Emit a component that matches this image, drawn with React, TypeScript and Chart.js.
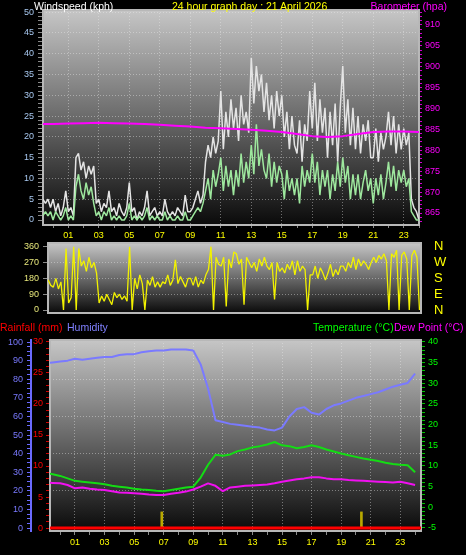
import React, { useEffect, useRef } from "react";
import { Chart, registerables } from "chart.js";

Chart.register(...registerables);

const FONT = "'Liberation Sans', Arial, sans-serif";

// ---------------- data ----------------
// Wind speed (kph), one value every 10 minutes (first row: before 00:00, then one row per hour)
const windStartHour = -4 / 6;
const windStepHours = 1 / 6;
const windGust = [
  5, 4, 5, 3,
  5, 2, 4, 1, 3, 7,
  2, 3, 1, 15, 16, 12,
  14, 10, 13, 11, 13, 4,
  5, 2, 4, 3, 7, 2,
  3, 1, 4, 2, 1, 3,
  9, 2, 3, 0, 2, 1,
  3, 7, 1, 2, 3, 1,
  2, 1, 5, 2, 1, 2,
  1, 3, 2, 1, 6, 2,
  2, 3, 5, 7, 4, 6,
  14, 18, 15, 20, 16, 19,
  31, 17, 26, 20, 29, 22,
  27, 19, 30, 23, 26, 21,
  39, 28, 37, 31, 35, 26,
  33, 24, 30, 22, 31, 25,
  30, 20, 26, 17, 25, 18,
  16, 24, 14, 23, 19, 31,
  22, 33, 19, 29, 21, 27,
  15, 26, 18, 28, 14, 27,
  37, 21, 29, 18, 27, 17,
  25, 16, 23, 19, 24, 15,
  15, 22, 14, 21, 17, 20,
  26, 18, 25, 16, 23, 17,
  22, 18, 21, 5, 3, 2,
  0,
];
const windAverage = [
  1, 2, 1, 2,
  0, 2, 1, 0, 1, 3,
  0, 1, 0, 8, 11, 7,
  5, 9, 6, 8, 4, 1,
  2, 0, 2, 1, 3, 0,
  1, 0, 1, 0, 0, 1,
  4, 0, 1, 0, 1, 0,
  1, 3, 0, 1, 0, 1,
  0, 0, 2, 0, 1, 0,
  0, 1, 0, 0, 2, 0,
  0, 1, 2, 3, 2, 4,
  7, 10, 5, 12, 8, 11,
  15, 7, 13, 8, 12, 6,
  12, 8, 16, 9, 14, 10,
  18, 11, 23, 13, 17, 12,
  10, 16, 8, 14, 9, 13,
  11, 5, 12, 7, 10, 6,
  10, 4, 13, 8, 12, 9,
  16, 9, 14, 6, 12, 8,
  12, 5, 11, 7, 14, 8,
  15, 9, 13, 5, 11, 6,
  11, 5, 9, 12, 7, 10,
  4, 10, 6, 11, 5, 9,
  14, 8, 13, 7, 12, 9,
  12, 8, 10, 2, 1, 0,
  0,
];

// Barometer (hPa), hourly
const baroStartHour = -1;
const baroStepHours = 1;
const barometer = [
  886.3, 886.3, 886.4, 886.5, 886.6, 886.5, 886.4, 886.3, 886.1, 885.9,
  885.7, 885.4, 885.3, 885.1, 884.9, 884.7, 884.4, 883.9, 883.4, 883.2,
  883.4, 883.9, 884.4, 884.5, 884.5, 884.4,
];

// Wind direction (degrees), every 10 minutes
const dirStartHour = -0.5;
const dirStepHours = 1 / 6;
const windDirection = [
  150, 170, 140,
  130, 180, 120, 160, 0, 350,
  40, 70, 360, 0, 350, 250,
  280, 220, 300, 240, 270, 210,
  40, 80, 50, 90, 60, 30,
  100, 70, 90, 60, 80, 50,
  360, 0, 180, 120, 200, 150,
  0, 170, 140, 190, 130, 160,
  130, 160, 150, 200, 140, 170,
  285, 150, 190, 160, 130, 180,
  180, 140, 190, 130, 170, 150,
  200, 230, 360, 0, 300, 260,
  250, 300, 20, 290, 240, 330,
  320, 260, 290, 30, 300, 270,
  240, 270, 220, 290, 250, 300,
  250, 230, 270, 60, 270, 220,
  240, 210, 260, 230, 280, 200,
  280, 220, 250, 230, 0, 200,
  200, 250, 180, 240, 210, 170,
  210, 260, 190, 230, 200, 250,
  250, 220, 270, 240, 300, 230,
  290, 250, 280, 260, 230, 270,
  300, 270, 310, 290, 320, 280,
  0, 320, 300, 340, 0, 310,
  330, 290, 0, 310, 340, 300,
  0,
];
const compassLabels = ["N", "E", "S", "W", "N"];

// Humidity (%), temperature and dew point (°C), half hourly
const climateStartHour = -1;
const climateStepHours = 0.5;
const humidity = [
  88.5, 89, 89.5, 90, 91, 90.5, 91, 91.5, 92, 92, 93, 93.5, 93.5, 94.5, 95, 95.5,
  95.5, 96, 96, 96, 95.5, 88, 75, 58, 57, 56, 55.5, 55, 54.5, 54, 53, 52.5,
  54, 60, 64, 65, 62, 61, 64, 66, 67, 68.5, 70, 71, 72, 73, 74.5, 76, 77, 78, 83,
];
const temperature = [
  8.3, 8.0, 7.6, 7.0, 6.4, 6.2, 6.0, 5.8, 5.6, 5.2, 5.0, 4.8, 4.5, 4.3, 4.2, 4.0,
  3.9, 4.2, 4.5, 4.8, 5.0, 7.2, 10.3, 12.7, 12.5, 12.8, 13.6, 14.0, 14.5, 14.8,
  15.2, 15.8, 15.0, 14.8, 14.3, 14.6, 15.0, 14.6, 14.0, 13.5, 13.0, 12.6, 12.2,
  11.8, 11.5, 11.2, 10.8, 10.5, 10.3, 10.2, 8.5,
];
const dewPoint = [
  6.0, 5.9, 5.8, 5.4, 4.6, 4.8, 4.5, 4.3, 4.2, 3.9, 3.6, 3.5, 3.4, 3.3, 3.1, 3.0,
  3.0, 3.3, 3.5, 3.8, 4.3, 5.0, 5.8, 5.2, 3.9, 4.8, 5.0, 5.2, 5.3, 5.4, 5.5, 5.8,
  6.2, 6.5, 6.8, 7.0, 7.3, 7.3, 7.0, 6.8, 6.8, 6.6, 6.5, 6.4, 6.3, 6.2, 6.1, 6.0,
  6.2, 5.8, 5.4,
];

// Rainfall (mm), hourly, and rain rate marks
const rainStartHour = -1;
const rainStepHours = 1;
const rainfall = [
  0, 0, 0, 0, 0, 0, 0, 0, 0, 0, 0, 0, 0, 0, 0, 0, 0, 0, 0, 0, 0, 0, 0, 0, 0, 0, 0,
];
const rainRateHours = [6.87, 20.37];
const rainRate = [2.6, 2.6];

// ---------------- helpers ----------------
const toPoints = (start: number, step: number, values: number[]) =>
  values.map((y, i) => ({ x: start + i * step, y }));

const DOT = "rgba(235,235,235,0.42)";
const NONE = "rgba(0,0,0,0)";
const tickFont = { family: FONT, size: 9 };

const hourLabel = (v: number) =>
  Number.isInteger(v) && v > 0 && v % 2 === 1 ? String(v).padStart(2, "0") : "";

const fixW = (w: number) => (s: any) => {
  s.width = w;
  s.paddingTop = 0;
  s.paddingBottom = 0;
  s.paddingLeft = 0;
  s.paddingRight = 0;
};
const fixH = (h: number) => (s: any) => {
  s.height = h;
  s.paddingTop = 0;
  s.paddingBottom = 0;
  s.paddingLeft = 0;
  s.paddingRight = 0;
};

const plotBackground = {
  id: "plotBackground",
  beforeDraw(chart: any) {
    const { ctx, chartArea: a } = chart;
    if (!a) return;
    ctx.save();
    const g = ctx.createLinearGradient(0, a.top, 0, a.bottom);
    g.addColorStop(0, "#c6c6c6");
    g.addColorStop(0.5, "#6a6a6a");
    g.addColorStop(1, "#0a0a0a");
    ctx.fillStyle = g;
    ctx.fillRect(a.left, a.top, a.right - a.left, a.bottom - a.top);
    ctx.restore();
  },
  beforeDatasetsDraw(chart: any) {
    const { ctx, chartArea: a } = chart;
    ctx.save();
    ctx.strokeStyle = "#b8b8b8";
    ctx.lineWidth = 2;
    ctx.strokeRect(a.left, a.top, a.right - a.left, a.bottom - a.top);
    ctx.restore();
  },
};

const lineBase = {
  pointRadius: 0,
  tension: 0,
  borderJoinStyle: "bevel" as const,
  spanGaps: false,
};

const common = {
  responsive: false,
  maintainAspectRatio: false,
  animation: false as const,
  events: [] as any[],
  plugins: { legend: { display: false }, tooltip: { enabled: false } },
};

function topConfig(): any {
  return {
    type: "line",
    data: {
      datasets: [
        {
          ...lineBase,
          label: "Barometer",
          data: toPoints(baroStartHour, baroStepHours, barometer),
          yAxisID: "baro",
          borderColor: "#ff00ff",
          borderWidth: 2,
        },
        {
          ...lineBase,
          label: "Average wind",
          data: toPoints(windStartHour, windStepHours, windAverage),
          yAxisID: "wind",
          borderColor: "#9ee89e",
          borderWidth: 1.5,
        },
        {
          ...lineBase,
          label: "Gust",
          data: toPoints(windStartHour, windStepHours, windGust),
          yAxisID: "wind",
          borderColor: "#e4e4e4",
          borderWidth: 1.5,
        },
      ],
    },
    options: {
      ...common,
      layout: { padding: { top: 10, left: 0, right: 0, bottom: 0 } },
      scales: {
        x: {
          type: "linear",
          min: -0.66,
          max: 24.0,
          afterFit: fixH(20),
          ticks: {
            stepSize: 1,
            autoSkip: false,
            includeBounds: false,
            maxRotation: 0,
            color: "#ffff00",
            font: tickFont,
            padding: 2,
            callback: (v: number) => hourLabel(v),
          },
          grid: {
            color: (c: any) => (c.tick && c.tick.value % 2 === 1 ? DOT : NONE),
            tickColor: "#8a8a8a",
            tickLength: 3,
          },
          border: { display: false, dash: [1, 2] },
        },
        wind: {
          type: "linear",
          position: "left",
          min: -1.2,
          max: 50.5,
          afterFit: fixW(43),
          ticks: {
            stepSize: 1,
            autoSkip: false,
            includeBounds: false,
            color: "#a8c8f0",
            font: tickFont,
            padding: 4,
            callback: (v: number) => (v >= 0 && v % 5 === 0 ? String(v) : ""),
          },
          grid: {
            color: (c: any) =>
              c.tick && c.tick.value > 0 && c.tick.value % 5 === 0 ? DOT : NONE,
            tickColor: (c: any) => (c.tick && c.tick.value >= 0 ? "#8a8a8a" : NONE),
            tickLength: 5,
          },
          border: { display: false, dash: [1, 2] },
        },
        baro: {
          type: "linear",
          position: "right",
          min: 862.13,
          max: 913.59,
          afterFit: fixW(47),
          ticks: {
            stepSize: 1,
            autoSkip: false,
            includeBounds: false,
            color: "#ff00ff",
            font: tickFont,
            padding: 3,
            callback: (v: number) => (v % 5 === 0 ? String(v) : ""),
          },
          grid: { drawOnChartArea: false, tickColor: "#d000d0", tickLength: 3 },
          border: { display: false },
        },
      },
    },
    plugins: [plotBackground],
  };
}

function midConfig(): any {
  return {
    type: "line",
    data: {
      datasets: [
        {
          ...lineBase,
          label: "Wind direction",
          data: toPoints(dirStartHour, dirStepHours, windDirection),
          yAxisID: "dir",
          borderColor: "#f2f200",
          borderWidth: 1.3,
        },
      ],
    },
    options: {
      ...common,
      layout: { padding: { top: 3, left: 0, right: 0, bottom: 3 } },
      scales: {
        x: { type: "linear", display: false, min: -0.35, max: 24.1 },
        dir: {
          type: "linear",
          position: "left",
          min: -17,
          max: 381,
          afterFit: fixW(48),
          ticks: {
            stepSize: 90,
            autoSkip: false,
            includeBounds: false,
            color: "#e6e67a",
            font: tickFont,
            padding: 4,
          },
          grid: {
            color: (c: any) => (c.tick && c.tick.value > 0 && c.tick.value < 360 ? DOT : NONE),
            tickColor: "#8a8a8a",
            tickLength: 5,
          },
          border: { display: false, dash: [1, 2] },
        },
        compass: {
          type: "linear",
          position: "right",
          min: -17,
          max: 381,
          afterFit: fixW(45),
          ticks: {
            stepSize: 90,
            autoSkip: false,
            includeBounds: false,
            color: "#ffff00",
            font: { family: FONT, size: 13 },
            padding: 13,
            callback: (v: number) => compassLabels[Math.round(v / 90)] ?? "",
          },
          grid: { drawOnChartArea: false, drawTicks: false },
          border: { display: false },
        },
      },
    },
    plugins: [plotBackground],
  };
}

function botConfig(): any {
  return {
    type: "line",
    data: {
      datasets: [
        {
          ...lineBase,
          label: "Rainfall",
          data: toPoints(rainStartHour, rainStepHours, rainfall),
          yAxisID: "rain",
          borderColor: "#ff0000",
          borderWidth: 3,
        },
        {
          ...lineBase,
          label: "Dew Point",
          data: toPoints(climateStartHour, climateStepHours, dewPoint),
          yAxisID: "temp",
          borderColor: "#f010f0",
          borderWidth: 2,
        },
        {
          ...lineBase,
          label: "Temperature",
          data: toPoints(climateStartHour, climateStepHours, temperature),
          yAxisID: "temp",
          borderColor: "#14dc14",
          borderWidth: 2,
        },
        {
          ...lineBase,
          label: "Humidity",
          data: toPoints(climateStartHour, climateStepHours, humidity),
          yAxisID: "hum",
          borderColor: "#7a7aff",
          borderWidth: 2,
        },
        {
          type: "bar",
          label: "Rain rate",
          data: rainRateHours.map((h, i) => ({ x: h, y: rainRate[i] })),
          yAxisID: "rain",
          backgroundColor: "#b8a800",
          barThickness: 2,
          grouped: false,
        },
      ],
    },
    options: {
      ...common,
      layout: { padding: { top: 5, left: 0, right: 0, bottom: 0 } },
      scales: {
        x: {
          type: "linear",
          min: -0.69,
          max: 24.4,
          offset: false,
          afterFit: fixH(24),
          ticks: {
            stepSize: 1,
            autoSkip: false,
            includeBounds: false,
            maxRotation: 0,
            color: "#ffff00",
            font: tickFont,
            padding: 2,
            callback: (v: number) => hourLabel(v),
          },
          grid: {
            offset: false,
            color: (c: any) => (c.tick && c.tick.value % 2 === 1 ? DOT : NONE),
            tickColor: "#8a8a8a",
            tickLength: 4,
          },
          border: { display: false, dash: [1, 2] },
        },
        hum: {
          type: "linear",
          position: "left",
          weight: 1,
          min: -1.6,
          max: 101.1,
          afterFit: fixW(31),
          ticks: {
            stepSize: 2.5,
            autoSkip: false,
            includeBounds: false,
            color: "#7a7aff",
            font: tickFont,
            padding: 4,
            callback: (v: number) => (v % 10 === 0 ? String(v) : ""),
          },
          grid: { drawOnChartArea: false, tickColor: "#6a6aff", tickLength: 4 },
          border: { display: true, color: "#6a6aff", width: 2 },
        },
        rain: {
          type: "linear",
          position: "left",
          weight: 0,
          min: -0.48,
          max: 30.32,
          afterFit: fixW(19),
          ticks: {
            stepSize: 1,
            autoSkip: false,
            includeBounds: false,
            color: "#ff0000",
            font: tickFont,
            padding: 3,
            callback: (v: number) => (v % 5 === 0 ? String(v) : ""),
          },
          grid: {
            color: (c: any) =>
              c.tick && c.tick.value > 0 && c.tick.value < 30 && c.tick.value % 6 === 0 ? DOT : NONE,
            tickColor: "#d00000",
            tickLength: 4,
          },
          border: { display: false, dash: [1, 2] },
        },
        temp: {
          type: "linear",
          position: "right",
          min: -5.73,
          max: 40.48,
          afterFit: fixW(45),
          ticks: {
            stepSize: 1,
            autoSkip: false,
            includeBounds: false,
            color: "#00ff00",
            font: tickFont,
            padding: 3,
            callback: (v: number) => (v % 5 === 0 ? String(v) : ""),
          },
          grid: { drawOnChartArea: false, tickColor: "#00c000", tickLength: 4 },
          border: { display: false },
        },
      },
    },
    plugins: [plotBackground],
  };
}

const textStyle = (
  left: number | undefined,
  top: number,
  color: string,
  right?: number
): React.CSSProperties => ({
  position: "absolute",
  left,
  right,
  top,
  color,
  fontFamily: FONT,
  fontSize: "10.5px",
  lineHeight: "12px",
  whiteSpace: "nowrap",
});

export default function App() {
  const topRef = useRef<HTMLCanvasElement>(null);
  const midRef = useRef<HTMLCanvasElement>(null);
  const botRef = useRef<HTMLCanvasElement>(null);

  useEffect(() => {
    const charts = [
      new Chart(topRef.current as HTMLCanvasElement, topConfig()),
      new Chart(midRef.current as HTMLCanvasElement, midConfig()),
      new Chart(botRef.current as HTMLCanvasElement, botConfig()),
    ];
    return () => charts.forEach((c) => c.destroy());
  }, []);

  return (
    <div
      style={{
        position: "absolute",
        left: 0,
        top: 0,
        width: 466,
        height: 555,
        background: "#000",
        overflow: "hidden",
      }}
    >
      <canvas ref={topRef} width={466} height={245} style={{ position: "absolute", left: 0, top: 0 }} />
      <canvas ref={midRef} width={466} height={76} style={{ position: "absolute", left: 0, top: 240 }} />
      <canvas ref={botRef} width={466} height={220} style={{ position: "absolute", left: 0, top: 335 }} />

      <div style={textStyle(34, 0, "#ffffff")}>Windspeed (kph)</div>
      <div style={textStyle(172, 0, "#ffff00")}>24 hour graph day : 21 April 2026</div>
      <div style={textStyle(undefined, 0, "#ff00ff", 19)}>Barometer (hpa)</div>

      <div style={textStyle(0, 321, "#ff0000")}>Rainfall (mm)</div>
      <div style={textStyle(67, 321, "#8080ff")}>Humidity</div>
      <div style={textStyle(313, 321, "#00ff00")}>Temperature (°C)</div>
      <div style={textStyle(394, 321, "#ff00ff")}>Dew Point (°C)</div>
    </div>
  );
}
